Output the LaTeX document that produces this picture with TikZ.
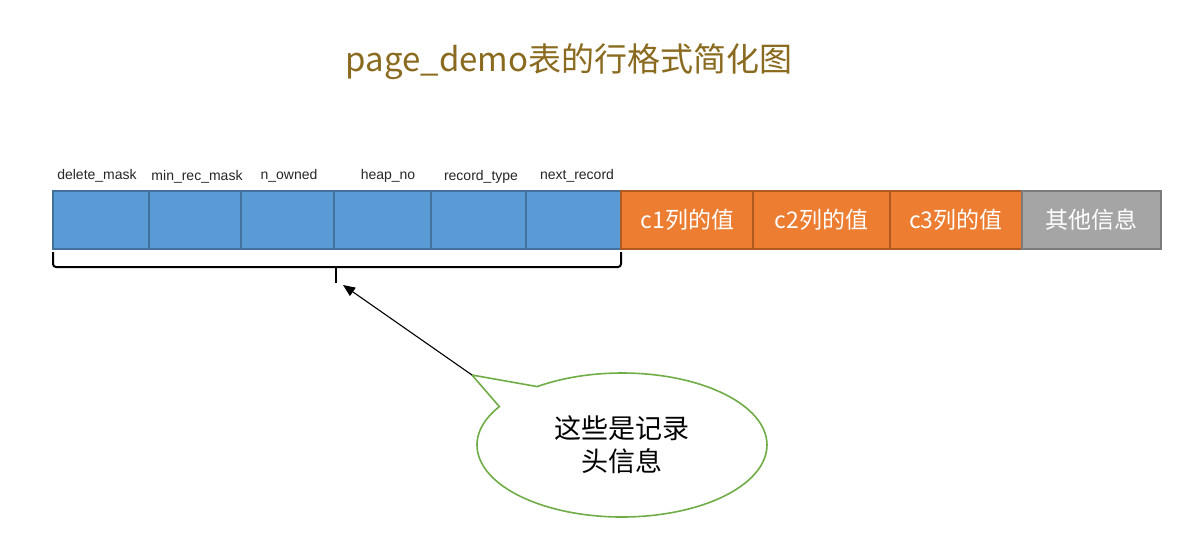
\documentclass[tikz,border=0pt]{standalone}
\usepackage{fontspec}
\setmainfont{Liberation Sans}
\newfontfamily\cjk{Noto Sans CJK SC}
\usetikzlibrary{shapes.geometric,shapes.callouts,arrows.meta}
\definecolor{cblue}{HTML}{5B9BD5}
\definecolor{cblueb}{HTML}{41719C}
\definecolor{corange}{HTML}{ED7D31}
\definecolor{corangeb}{HTML}{AE5A21}
\definecolor{cgray}{HTML}{A5A5A5}
\definecolor{cgrayb}{HTML}{7B7B7B}
\definecolor{ctitle}{HTML}{8A6A1E}
\definecolor{cgreen}{HTML}{70AD47}
\begin{document}
\begin{tikzpicture}[x=1pt,y=-1pt,
  cell/.style={draw, line width=1.2pt, minimum height=58pt, inner sep=0pt, outer sep=0pt},
  hdrcell/.style={cell, fill=cblue, draw=cblueb},
  colcell/.style={cell, fill=corange, draw=corangeb, text=white, font=\cjk\fontsize{23}{26}\selectfont},
  othercell/.style={cell, fill=cgray, draw=cgrayb, text=white, font=\cjk\fontsize{23}{26}\selectfont},
  lbl/.style={font=\fontsize{14}{16}\selectfont, inner sep=0pt, text=black!85}]
\useasboundingbox[fill=white] (0,0) rectangle (1198,536);
% title
\node[text=ctitle, font=\cjk\fontsize{33}{38}\selectfont] (title) at (569,62) {page\_demo表的行格式简化图};
% header cells
\node[hdrcell, minimum width=96pt] (h1) at (101,220) {};
\node[hdrcell, minimum width=92pt] (h2) at (195,220) {};
\node[hdrcell, minimum width=93pt] (h3) at (287.5,220) {};
\node[hdrcell, minimum width=97pt] (h4) at (382.5,220) {};
\node[hdrcell, minimum width=95pt] (h5) at (478.5,220) {};
\node[hdrcell, minimum width=95pt] (h6) at (573.5,220) {};
% column cells
\node[colcell, minimum width=133pt] (c1) at (687.5,220) {c1列的值};
\node[colcell, minimum width=137pt] (c2) at (821.5,220) {c2列的值};
\node[colcell, minimum width=132pt] (c3) at (956,220) {c3列的值};
\node[othercell, minimum width=139pt] (oth) at (1091.5,220) {其他信息};
% labels
\node[lbl] (l1) at (97,176) {delete\_mask};
\node[lbl] (l2) at (197,177) {min\_rec\_mask};
\node[lbl] (l3) at (289,176) {n\_owned};
\node[lbl] (l4) at (388,176) {heap\_no};
\node[lbl] (l5) at (481,177) {record\_type};
\node[lbl] (l6) at (577,176) {next\_record};
% brace
\coordinate (bl) at ([yshift=-3pt]h1.south west);
\coordinate (br) at ([yshift=-3pt]h6.south east);
\coordinate (bm) at (336,267);
\coordinate (tip) at (336,283);
\draw[line width=2pt, rounded corners=3pt] (bl) -- (bl |- bm) -- (br |- bm) -- (br);
\draw[line width=2pt] (bm) -- (tip);
% callout
\node[ellipse callout, draw=cgreen, line width=1.6pt, fill=white,
      minimum width=290pt, minimum height=144pt, align=center,
      callout absolute pointer={(472,375)}, callout pointer arc=22,
      font=\cjk\fontsize{27}{33}\selectfont] (bubble) at (622,445) {这些是记录\\头信息};
\coordinate (ptr) at (472,375);
\draw[line width=1.1pt, -{Triangle[length=12pt,width=10pt]}] (ptr) -- (343,285);
\end{tikzpicture}
\end{document}
